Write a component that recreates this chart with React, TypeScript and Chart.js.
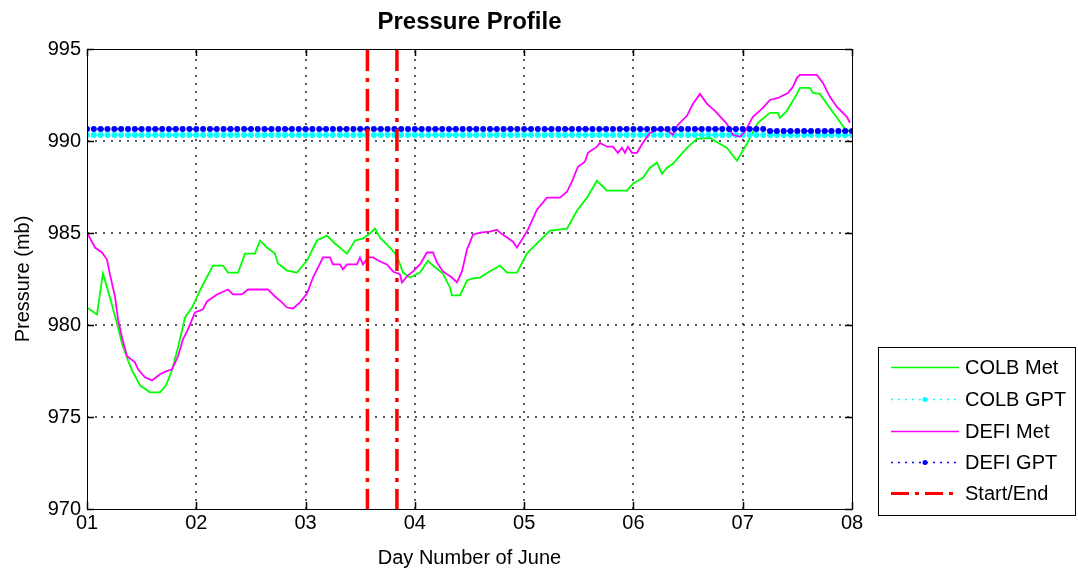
import React, { useEffect, useRef } from "react";
import { Chart, registerables } from "chart.js";

Chart.register(...registerables);

// ---------- DATA ----------
const TITLE = "Pressure Profile";
const X_TITLE = "Day Number of June";
const Y_TITLE = "Pressure (mb)";

const X_TICKS = [1, 2, 3, 4, 5, 6, 7, 8];
const X_TICK_LABELS = ["01", "02", "03", "04", "05", "06", "07", "08"];
const Y_TICKS = [970, 975, 980, 985, 990, 995];
const Y_TICK_LABELS = ["970", "975", "980", "985", "990", "995"];

const SERIES_NAMES = ["COLB Met", "COLB GPT", "DEFI Met", "DEFI GPT", "Start/End"];

const colbMetDays = [
  1.0, 1.091, 1.146, 1.21, 1.274, 1.32, 1.375, 1.412, 1.485, 1.576, 1.668, 1.723, 1.778, 1.833,
  1.897, 1.961, 2.034, 2.08, 2.153, 2.244, 2.29, 2.382, 2.446, 2.537, 2.583, 2.647, 2.72, 2.747,
  2.83, 2.921, 3.013, 3.104, 3.196, 3.269, 3.379, 3.452, 3.525, 3.589, 3.635, 3.681, 3.772,
  3.836, 3.891, 3.955, 4.047, 4.12, 4.166, 4.257, 4.321, 4.339, 4.413, 4.477, 4.532, 4.596,
  4.669, 4.779, 4.843, 4.934, 5.026, 5.053, 5.236, 5.392, 5.483, 5.575, 5.666, 5.758, 5.941,
  5.995, 6.087, 6.151, 6.215, 6.261, 6.307, 6.361, 6.49, 6.581, 6.7, 6.773, 6.855, 6.947,
  7.038, 7.139, 7.249, 7.322, 7.34, 7.404, 7.496, 7.523, 7.615, 7.642, 7.706, 7.77, 7.862,
  7.935, 7.981,
];
const colbMetValues = [
  980.95, 980.57, 982.8, 981.5, 980.09, 979.0, 978.08, 977.54, 976.72, 976.34, 976.34, 976.72,
  977.54, 978.79, 980.41, 980.95, 981.88, 982.42, 983.23, 983.23, 982.85, 982.85, 983.88,
  983.88, 984.59, 984.21, 983.88, 983.34, 982.96, 982.85, 983.5, 984.59, 984.86, 984.43,
  983.88, 984.59, 984.7, 984.97, 985.24, 984.75, 984.21, 983.77, 982.85, 982.58, 982.85,
  983.5, 983.23, 982.8, 982.04, 981.61, 981.61, 982.42, 982.53, 982.58, 982.85, 983.23,
  982.85, 982.85, 983.88, 984.05, 985.13, 985.24, 986.21, 986.92, 987.84, 987.3, 987.3,
  987.68, 988.0, 988.55, 988.82, 988.22, 988.55, 988.76, 989.63, 990.12, 990.17, 989.9,
  989.63, 988.93, 989.85, 990.99, 991.53, 991.53, 991.26, 991.64, 992.56, 992.89, 992.89,
  992.61, 992.56, 992.02, 991.26, 990.66, 990.55,
];

const defiMetDays = [
  1.0, 1.073, 1.137, 1.183, 1.21, 1.256, 1.284, 1.32, 1.366, 1.439, 1.467, 1.531, 1.595, 1.668,
  1.723, 1.778, 1.833, 1.878, 1.924, 1.988, 2.061, 2.098, 2.189, 2.29, 2.336, 2.418, 2.473,
  2.656, 2.72, 2.784, 2.83, 2.885, 2.949, 3.013, 3.068, 3.132, 3.159, 3.223, 3.251, 3.315,
  3.342, 3.379, 3.47, 3.498, 3.525, 3.571, 3.617, 3.681, 3.745, 3.8, 3.864, 3.882, 3.928,
  3.983, 4.047, 4.111, 4.166, 4.202, 4.257, 4.339, 4.385, 4.431, 4.477, 4.532, 4.596, 4.687,
  4.751, 4.779, 4.843, 4.898, 4.934, 4.98, 5.035, 5.117, 5.209, 5.328, 5.392, 5.437, 5.492,
  5.556, 5.584, 5.666, 5.693, 5.758, 5.812, 5.858, 5.895, 5.922, 5.95, 5.986, 6.032, 6.087,
  6.151, 6.215, 6.307, 6.361, 6.407, 6.49, 6.545, 6.609, 6.673, 6.746, 6.855, 6.91, 6.974,
  7.02, 7.093, 7.185, 7.249, 7.322, 7.414, 7.459, 7.496, 7.523, 7.679, 7.734, 7.798, 7.862,
  7.953, 7.981,
];
const defiMetValues = [
  985.02, 984.21, 983.94, 983.56, 982.75, 981.55, 980.3, 979.33, 978.3, 977.97, 977.59, 977.16,
  976.99, 977.32, 977.48, 977.59, 978.3, 979.22, 979.76, 980.68, 980.85, 981.28, 981.66,
  981.93, 981.66, 981.66, 981.93, 981.93, 981.55, 981.23, 980.95, 980.9, 981.23, 981.71,
  982.58, 983.34, 983.67, 983.67, 983.29, 983.29, 983.02, 983.29, 983.29, 983.67, 983.29,
  983.67, 983.67, 983.45, 983.29, 982.91, 982.75, 982.31, 982.64, 982.91, 983.29, 983.94,
  983.94, 983.4, 982.91, 982.58, 982.31, 982.91, 984.1, 984.91, 985.02, 985.07, 985.18,
  985.02, 984.75, 984.53, 984.21, 984.64, 985.18, 986.27, 986.92, 986.92, 987.24, 987.79,
  988.6, 988.87, 989.36, 989.69, 989.9, 989.69, 989.69, 989.36, 989.63, 989.36, 989.69,
  989.36, 989.36, 989.9, 990.44, 990.61, 990.61, 990.34, 990.88, 991.37, 992.02, 992.56,
  992.02, 991.64, 990.93, 990.34, 990.23, 990.5, 991.31, 991.8, 992.23, 992.34, 992.61,
  992.94, 993.43, 993.59, 993.59, 993.16, 992.4, 991.85, 991.31, 990.99,
];

// GPT samples every 1.5 hours from day 1 to day 8
const GPT_START_DAY = 1;
const GPT_STEP_DAYS = 0.0625;
const colbGptValues = [
  990.33, 990.33, 990.33, 990.33, 990.33, 990.33, 990.33, 990.33, 990.33, 990.33,
  990.33, 990.33, 990.33, 990.33, 990.33, 990.33, 990.33, 990.33, 990.33, 990.33,
  990.33, 990.33, 990.33, 990.33, 990.33, 990.33, 990.33, 990.33, 990.33, 990.33,
  990.33, 990.33, 990.33, 990.33, 990.33, 990.33, 990.33, 990.33, 990.33, 990.33,
  990.33, 990.33, 990.33, 990.33, 990.33, 990.33, 990.33, 990.33, 990.33, 990.33,
  990.33, 990.33, 990.33, 990.33, 990.33, 990.33, 990.33, 990.33, 990.33, 990.33,
  990.33, 990.33, 990.33, 990.33, 990.33, 990.33, 990.33, 990.33, 990.33, 990.33,
  990.33, 990.33, 990.33, 990.33, 990.33, 990.33, 990.33, 990.33, 990.33, 990.33,
  990.33, 990.33, 990.33, 990.33, 990.33, 990.33, 990.33, 990.33, 990.33, 990.33,
  990.33, 990.33, 990.33, 990.33, 990.33, 990.33, 990.33, 990.33, 990.33, 990.33,
  990.33, 990.33, 990.33, 990.33, 990.33, 990.33, 990.33, 990.33, 990.33, 990.33,
  990.33, 990.33, 990.33,
];
const defiGptValues = [
  990.65, 990.65, 990.65, 990.65, 990.65, 990.65, 990.65, 990.65, 990.65, 990.65,
  990.65, 990.65, 990.65, 990.65, 990.65, 990.65, 990.65, 990.65, 990.65, 990.65,
  990.65, 990.65, 990.65, 990.65, 990.65, 990.65, 990.65, 990.65, 990.65, 990.65,
  990.65, 990.65, 990.65, 990.65, 990.65, 990.65, 990.65, 990.65, 990.65, 990.65,
  990.65, 990.65, 990.65, 990.65, 990.65, 990.65, 990.65, 990.65, 990.65, 990.65,
  990.65, 990.65, 990.65, 990.65, 990.65, 990.65, 990.65, 990.65, 990.65, 990.65,
  990.65, 990.65, 990.65, 990.65, 990.65, 990.65, 990.65, 990.65, 990.65, 990.65,
  990.65, 990.65, 990.65, 990.65, 990.65, 990.65, 990.65, 990.65, 990.65, 990.65,
  990.65, 990.65, 990.65, 990.65, 990.65, 990.65, 990.65, 990.65, 990.65, 990.65,
  990.65, 990.65, 990.65, 990.65, 990.65, 990.65, 990.65, 990.65, 990.65, 990.65,
  990.54, 990.54, 990.54, 990.54, 990.54, 990.54, 990.54, 990.54, 990.54, 990.54,
  990.54, 990.54, 990.54,
];

const startEndDays = [3.566, 3.836];

// ---------- STYLE ----------
const FONT = '"Liberation Sans", Arial, Helvetica, sans-serif';
const GREEN = "#00ff00";
const CYAN = "#00ffff";
const MAGENTA = "#ff00ff";
const BLUE = "#0000ff";
const RED = "#ff0000";
const RED_DASH = [22, 7, 4, 7];

const matlabPlugin = {
  id: "matlabStyle",
  beforeDatasetsDraw(chart: any) {
    const { ctx, chartArea: a, scales } = chart;
    const xs = scales.x;
    const ys = scales.y;
    ctx.save();
    ctx.strokeStyle = "rgba(0,0,0,0.65)";
    ctx.lineWidth = 2;
    ctx.setLineDash([2, 6]);
    X_TICKS.forEach((t) => {
      const px = Math.round(xs.getPixelForValue(t));
      if (px <= a.left + 1 || px >= a.right - 1) return;
      ctx.beginPath();
      ctx.moveTo(px, a.bottom);
      ctx.lineTo(px, a.top);
      ctx.stroke();
    });
    Y_TICKS.forEach((t) => {
      const py = Math.round(ys.getPixelForValue(t));
      if (py <= a.top + 1 || py >= a.bottom - 1) return;
      ctx.beginPath();
      ctx.moveTo(a.left, py);
      ctx.lineTo(a.right, py);
      ctx.stroke();
    });
    ctx.restore();
  },
  afterDraw(chart: any) {
    const { ctx, chartArea: a, scales } = chart;
    const xs = scales.x;
    const ys = scales.y;
    ctx.save();
    ctx.setLineDash([]);
    // frame
    ctx.strokeStyle = "#000";
    ctx.lineWidth = 1;
    ctx.strokeRect(Math.round(a.left) + 0.5, Math.round(a.top) + 0.5, Math.round(a.right - a.left), Math.round(a.bottom - a.top));
    // tick marks
    ctx.lineWidth = 1.5;
    X_TICKS.forEach((t) => {
      const px = Math.round(xs.getPixelForValue(t)) + 0.5;
      ctx.beginPath();
      ctx.moveTo(px, a.bottom);
      ctx.lineTo(px, a.bottom - 7);
      ctx.moveTo(px, a.top);
      ctx.lineTo(px, a.top + 7);
      ctx.stroke();
    });
    Y_TICKS.forEach((t) => {
      const py = Math.round(ys.getPixelForValue(t)) + 0.5;
      ctx.beginPath();
      ctx.moveTo(a.left, py);
      ctx.lineTo(a.left + 7, py);
      ctx.moveTo(a.right, py);
      ctx.lineTo(a.right - 7, py);
      ctx.stroke();
    });
    // tick labels
    ctx.fillStyle = "#000";
    ctx.font = `20px ${FONT}`;
    ctx.textAlign = "right";
    ctx.textBaseline = "middle";
    Y_TICKS.forEach((t, i) => {
      ctx.fillText(Y_TICK_LABELS[i], a.left - 6, ys.getPixelForValue(t));
    });
    ctx.textAlign = "center";
    ctx.textBaseline = "top";
    X_TICKS.forEach((t, i) => {
      ctx.fillText(X_TICK_LABELS[i], xs.getPixelForValue(t), a.bottom + 4);
    });
    // axis titles
    ctx.textBaseline = "alphabetic";
    ctx.fillText(X_TITLE, (a.left + a.right) / 2, 564);
    ctx.save();
    ctx.translate(29, (a.top + a.bottom) / 2);
    ctx.rotate(-Math.PI / 2);
    ctx.textAlign = "center";
    ctx.textBaseline = "alphabetic";
    ctx.fillText(Y_TITLE, 0, 0);
    ctx.restore();
    // title
    ctx.font = `bold 24px ${FONT}`;
    ctx.textAlign = "center";
    ctx.textBaseline = "alphabetic";
    ctx.fillText(TITLE, (a.left + a.right) / 2, 29);

    // legend
    const lx = 878, ly = 347, lw = 197, lh = 168;
    ctx.fillStyle = "#fff";
    ctx.fillRect(lx, ly, lw, lh);
    ctx.strokeStyle = "#000";
    ctx.lineWidth = 1;
    ctx.strokeRect(lx + 0.5, ly + 0.5, lw, lh);
    const rowY = [367, 399, 431, 462, 493];
    const x0 = 891, x1 = 959;
    const styles = [
      { color: GREEN, dash: [], width: 1.5, marker: false },
      { color: CYAN, dash: [2, 5], width: 1.5, marker: true },
      { color: MAGENTA, dash: [], width: 1.5, marker: false },
      { color: BLUE, dash: [2, 5], width: 1.5, marker: true },
      { color: RED, dash: [18, 6, 4, 6], width: 3, marker: false },
    ];
    styles.forEach((s, i) => {
      const y = rowY[i] + 0.5;
      ctx.strokeStyle = s.color;
      ctx.lineWidth = s.width;
      ctx.setLineDash(s.dash);
      ctx.beginPath();
      ctx.moveTo(x0, y);
      ctx.lineTo(x1, y);
      ctx.stroke();
      ctx.setLineDash([]);
      if (s.marker) {
        ctx.fillStyle = s.color;
        ctx.beginPath();
        ctx.arc((x0 + x1) / 2, y, 2.5, 0, Math.PI * 2);
        ctx.fill();
      }
      ctx.fillStyle = "#000";
      ctx.font = `20px ${FONT}`;
      ctx.textAlign = "left";
      ctx.textBaseline = "middle";
      ctx.fillText(SERIES_NAMES[i], 965, rowY[i] + 1);
    });
    ctx.restore();
  },
};

export default function App() {
  const ref = useRef<HTMLCanvasElement>(null);
  useEffect(() => {
    const canvas = ref.current;
    if (!canvas) return;
    const gptDays = colbGptValues.map((_, i) => GPT_START_DAY + i * GPT_STEP_DAYS);
    const toXY = (xsArr: number[], ysArr: number[]) => xsArr.map((x, i) => ({ x, y: ysArr[i] }));
    const redData: any[] = [];
    startEndDays.forEach((d, i) => {
      if (i > 0) redData.push({ x: d, y: null });
      redData.push({ x: d, y: Y_TICKS[Y_TICKS.length - 1] });
      redData.push({ x: d, y: Y_TICKS[0] });
    });
    const chart = new Chart(canvas, {
      type: "line",
      data: {
        datasets: [
          {
            label: SERIES_NAMES[0],
            data: toXY(colbMetDays, colbMetValues),
            borderColor: GREEN,
            borderWidth: 1.8,
            pointRadius: 0,
            order: 5,
          },
          {
            label: SERIES_NAMES[1],
            data: toXY(gptDays, colbGptValues),
            borderColor: CYAN,
            backgroundColor: CYAN,
            borderWidth: 1.5,
            borderDash: [2, 3],
            pointRadius: 3,
            pointBorderWidth: 0,
            pointBackgroundColor: CYAN,
            order: 4,
          },
          {
            label: SERIES_NAMES[2],
            data: toXY(defiMetDays, defiMetValues),
            borderColor: MAGENTA,
            borderWidth: 1.8,
            pointRadius: 0,
            order: 3,
          },
          {
            label: SERIES_NAMES[3],
            data: toXY(gptDays, defiGptValues),
            borderColor: BLUE,
            backgroundColor: BLUE,
            borderWidth: 1.5,
            borderDash: [2, 3],
            pointRadius: 3,
            pointBorderWidth: 0,
            pointBackgroundColor: BLUE,
            order: 2,
          },
          {
            label: SERIES_NAMES[4],
            data: redData,
            borderColor: RED,
            borderWidth: 3.5,
            borderDash: RED_DASH,
            pointRadius: 0,
            spanGaps: false,
            order: 1,
          },
        ] as any,
      },
      options: {
        animation: false,
        responsive: false,
        devicePixelRatio: 1,
        events: [],
        layout: { padding: { left: 87, right: 226, top: 49, bottom: 64 } },
        plugins: {
          legend: { display: false },
          title: { display: false },
          tooltip: { enabled: false },
        },
        scales: {
          x: { type: "linear", min: X_TICKS[0], max: X_TICKS[X_TICKS.length - 1], display: false },
          y: { type: "linear", min: Y_TICKS[0], max: Y_TICKS[Y_TICKS.length - 1], display: false },
        },
      } as any,
      plugins: [matlabPlugin],
    });
    return () => chart.destroy();
  }, []);
  return (
    <div style={{ position: "fixed", left: 0, top: 0, width: 1078, height: 573, background: "#fff" }}>
      <canvas ref={ref} width={1078} height={573} style={{ display: "block", width: 1078, height: 573 }} />
    </div>
  );
}
